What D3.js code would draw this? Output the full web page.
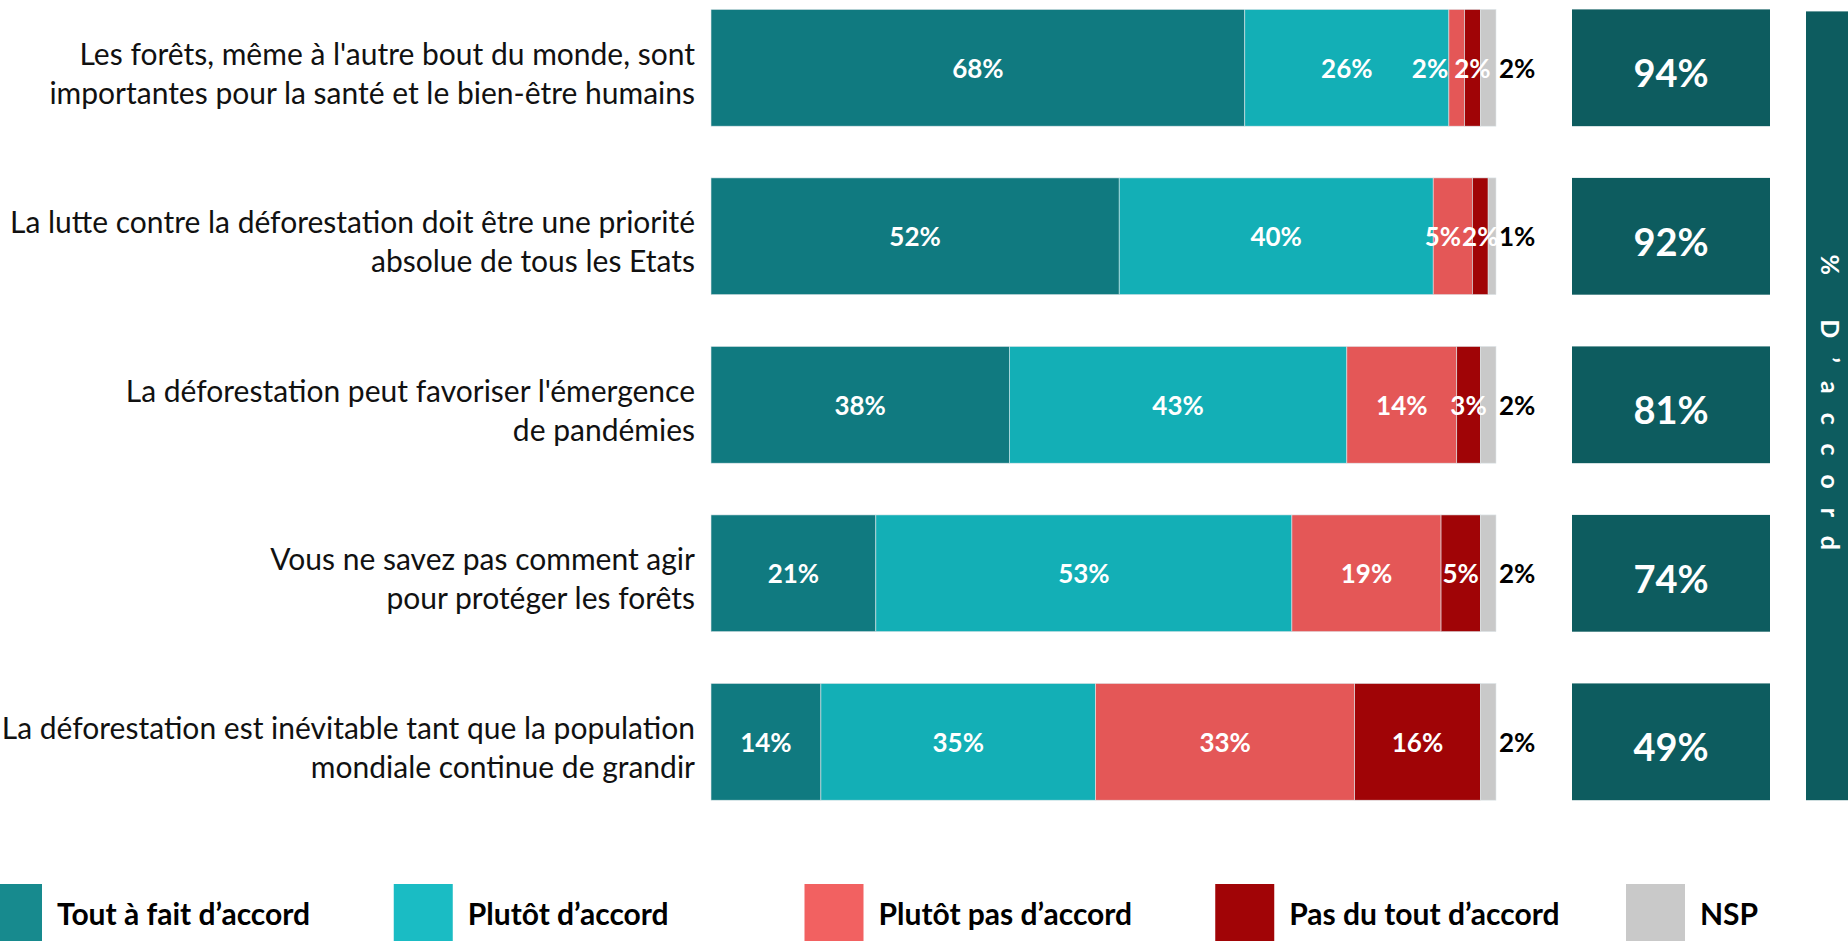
<!DOCTYPE html>
<html>
<head>
<meta charset="utf-8">
<script src="https://cdn.jsdelivr.net/npm/d3@7"></script>
<style>
  body { margin: 0; background: #fff; overflow: hidden; }
  svg { display: block; font-family: Lato, "Open Sans", sans-serif; }
  .q-label { font-size: 30px; fill: #111; }
  .seg-label { font-size: 26px; font-weight: 700; fill: #fff; }
  .nsp-label { font-size: 26px; font-weight: 700; fill: #000; }
  .total-label { font-size: 38px; font-weight: 700; fill: #fff; }
  .legend-label { font-size: 30px; font-weight: 700; fill: #000; }
  .side-label { font-size: 25px; font-weight: 700; fill: #fff; letter-spacing: 19px; }
</style>
</head>
<body>
<svg id="chart"></svg>
<script>
const W = 1848, H = 941;

// data
const questions = [
  ["Les forêts, même à l'autre bout du monde, sont", "importantes pour la santé et le bien-être humains"],
  ["La lutte contre la déforestation doit être une priorité", "absolue de tous les Etats"],
  ["La déforestation peut favoriser l'émergence", "de pandémies"],
  ["Vous ne savez pas comment agir", "pour protéger les forêts"],
  ["La déforestation est inévitable tant que la population", "mondiale continue de grandir"]
];
const categories = ["Tout à fait d’accord", "Plutôt d’accord", "Plutôt pas d’accord", "Pas du tout d’accord", "NSP"];
const toutAFait = [68, 52, 38, 21, 14];
const plutot = [26, 40, 43, 53, 35];
const plutotPas = [2, 5, 14, 19, 33];
const pasDuTout = [2, 2, 3, 5, 16];
const nsp = [2, 1, 2, 2, 2];
const totalAccord = [94, 92, 81, 74, 49];
const sideTitle = "% D’accord";

const colors = ['#107a80', '#13afb6', '#e45757', '#a00406', '#c9c9c9'];
const legendColors = ['#178a8e', '#1abcc4', '#f26161', '#a10406', '#c9c9c9'];
const totalColor = '#0d5c5f';

const rows = questions.map((q, i) => ({
  id: i,
  lines: q,
  [categories[0]]: toutAFait[i],
  [categories[1]]: plutot[i],
  [categories[2]]: plutotPas[i],
  [categories[3]]: pasDuTout[i],
  [categories[4]]: nsp[i],
  total: totalAccord[i]
}));

const svg = d3.select('#chart').attr('width', W).attr('height', H);

const y = d3.scaleBand()
  .domain(rows.map(d => d.id))
  .range([9.4, 800.2])
  .paddingInner(0.307)
  .paddingOuter(0);

const x = d3.scaleLinear().domain([0, 100]).range([711, 1496]);

const series = d3.stack().keys(categories)(rows);

// stacked bars
const gBars = svg.append('g');
series.forEach((s, k) => {
  gBars.append('g')
    .selectAll('rect')
    .data(s)
    .join('rect')
    .attr('x', d => x(d[0]))
    .attr('y', d => y(d.data.id))
    .attr('width', d => x(d[1]) - x(d[0]))
    .attr('height', y.bandwidth())
    .attr('fill', colors[k])
    .attr('stroke', '#dfe7ea')
    .attr('stroke-width', 0.6);
});

// segment labels (first four categories inside, NSP outside)
const gLab = svg.append('g');
rows.forEach((r, i) => {
  const cy = y(r.id) + y.bandwidth() / 2;
  const labs = [];
  series.slice(0, 4).forEach((s, k) => {
    const d = s[i];
    const t = gLab.append('text')
      .attr('class', 'seg-label')
      .attr('text-anchor', 'middle')
      .attr('dominant-baseline', 'central')
      .attr('x', (x(d[0]) + x(d[1])) / 2)
      .attr('y', cy)
      .text(`${d[1] - d[0]}%`);
    const w = t.node().getComputedTextLength();
    labs.push({ t, cx: (x(d[0]) + x(d[1])) / 2, w });
  });
  // push crowded labels to the left
  for (let k = labs.length - 2; k >= 0; k--) {
    const a = labs[k], b = labs[k + 1];
    const overlap = (a.cx + a.w / 2) - (b.cx - b.w / 2);
    if (overlap > a.w / 2) {
      a.cx = b.cx - b.w / 2 - 6 - a.w / 2;
    } else if (overlap > -1) {
      a.cx -= overlap + 1;
    }
    a.t.attr('x', a.cx);
  }
  gLab.append('text')
    .attr('class', 'nsp-label')
    .attr('dominant-baseline', 'central')
    .attr('x', x(100) + 3)
    .attr('y', cy)
    .text(`${r[categories[4]]}%`);
});

// question labels
const gQ = svg.append('g');
rows.forEach(r => {
  const cy = y(r.id) + y.bandwidth() / 2;
  r.lines.forEach((line, j) => {
    gQ.append('text')
      .attr('class', 'q-label')
      .attr('text-anchor', 'end')
      .attr('dominant-baseline', 'central')
      .attr('x', 695)
      .attr('y', cy - 15 + j * 39)
      .text(line);
  });
});

// total d'accord boxes
const xt = d3.scaleLinear().domain([0, 1]).range([1572, 1770]);
const gT = svg.append('g');
gT.selectAll('rect')
  .data(rows)
  .join('rect')
  .attr('x', xt(0))
  .attr('y', d => y(d.id))
  .attr('width', xt(1) - xt(0))
  .attr('height', y.bandwidth())
  .attr('fill', totalColor);
gT.selectAll('text')
  .data(rows)
  .join('text')
  .attr('class', 'total-label')
  .attr('text-anchor', 'middle')
  .attr('dominant-baseline', 'central')
  .attr('x', (xt(0) + xt(1)) / 2)
  .attr('y', d => y(d.id) + y.bandwidth() / 2 + 4.5)
  .text(d => `${d.total}%`);

// side banner
const yTop = y.range()[0], yBottom = y.range()[1];
svg.append('rect')
  .attr('x', 1806)
  .attr('y', yTop + 2)
  .attr('width', W - 1806)
  .attr('height', yBottom - yTop - 2)
  .attr('fill', totalColor);
svg.append('text')
  .attr('class', 'side-label')
  .attr('text-anchor', 'middle')
  .attr('dominant-baseline', 'central')
  .attr('transform', `translate(1831, ${(yTop + yBottom) / 2}) rotate(90)`)
  .attr('dx', 7)
  .text(sideTitle);

// legend
const lx = d3.scalePoint().domain(categories).range([-17, 1626]);
const gLeg = svg.append('g');
categories.forEach((c, k) => {
  gLeg.append('rect')
    .attr('x', lx(c))
    .attr('y', 884)
    .attr('width', 59)
    .attr('height', 60)
    .attr('fill', legendColors[k]);
  gLeg.append('text')
    .attr('class', 'legend-label')
    .attr('dominant-baseline', 'central')
    .attr('x', lx(c) + 74)
    .attr('y', 913)
    .text(c);
});
</script>
</body>
</html>
